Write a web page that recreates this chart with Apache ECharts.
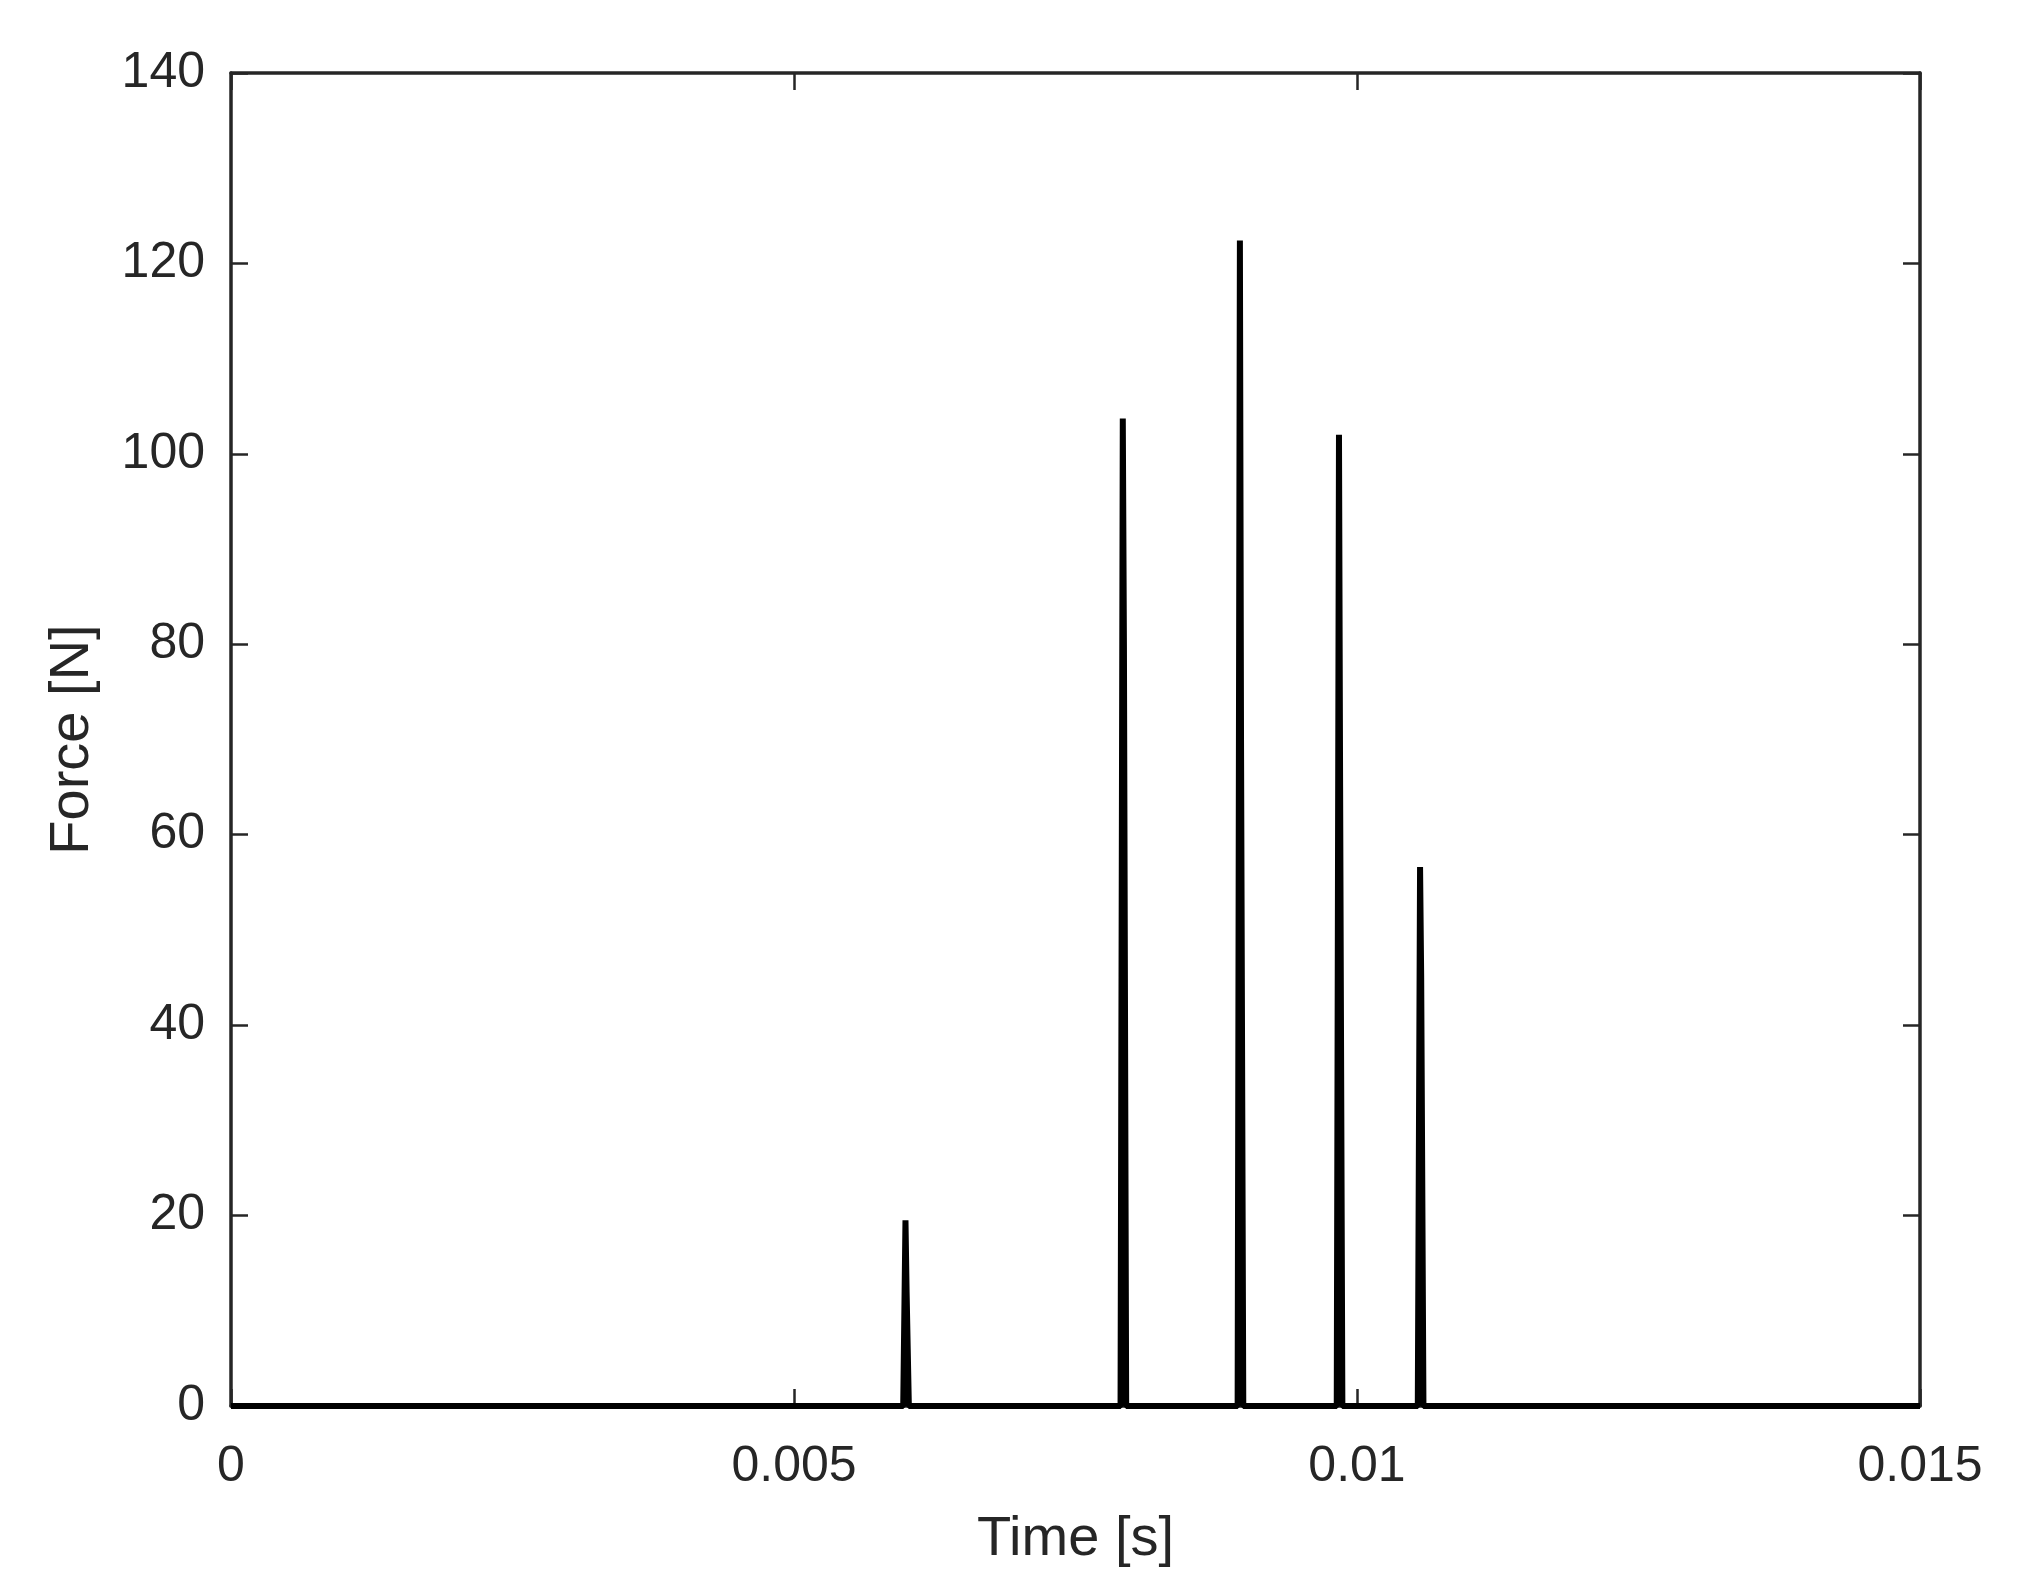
<!DOCTYPE html>
<html>
<head>
<meta charset="utf-8">
<script src="https://cdn.jsdelivr.net/npm/echarts@6/dist/echarts.min.js"></script>
<style>
html,body{margin:0;padding:0;background:#fff;}
#chart{width:2019px;height:1590px;}
</style>
</head>
<body>
<div id="chart"></div>
<script>
// Data (time in seconds, force in newtons)
const timeS  = [0, 0.00597, 0.00599, 0.00600, 0.00602,
                0.00790, 0.00792, 0.00793, 0.00795,
                0.00894, 0.00896, 0.00897, 0.00899,
                0.00982, 0.00984, 0.00985, 0.00987,
                0.01054, 0.01056, 0.01057, 0.01059, 0.015];
const forceN = [0, 0, 19.5, 12, 0,
                0, 103.7, 80, 0,
                0, 122.4, 70, 0,
                0, 102.0, 65, 0,
                0, 56.6, 45, 0, 0];
const xTicks = [0, 0.005, 0.01, 0.015];
const yTicks = [0, 20, 40, 60, 80, 100, 120, 140];

const seriesData = timeS.map((t, i) => [t, forceN[i]]);
const FONT = 'Liberation Sans, Arial, sans-serif';
const TXT = '#262626';

const chart = echarts.init(document.getElementById('chart'), null, {renderer: 'canvas'});
const baseX = {
  type: 'value', min: xTicks[0], max: xTicks[xTicks.length - 1], interval: xTicks[1] - xTicks[0],
  splitLine: {show: false},
  axisLine: {show: true, onZero: false, lineStyle: {color: TXT, width: 3.5}},
  axisTick: {show: true, inside: true, length: 17, lineStyle: {color: TXT, width: 2.5}}
};
const baseY = {
  type: 'value', min: yTicks[0], max: yTicks[yTicks.length - 1], interval: yTicks[1] - yTicks[0],
  splitLine: {show: false},
  axisLine: {show: true, onZero: false, lineStyle: {color: TXT, width: 3.5}},
  axisTick: {show: true, inside: true, length: 17, lineStyle: {color: TXT, width: 2.5}}
};
chart.setOption({
  animation: false,
  backgroundColor: '#ffffff',
  grid: {left: 231, right: 99, top: 73, bottom: 184, containLabel: false},
  xAxis: [
    Object.assign({}, baseX, {
      position: 'bottom',
      name: 'Time [s]', nameLocation: 'middle', nameGap: 106,
      nameTextStyle: {fontFamily: FONT, fontSize: 56, color: TXT},
      axisLabel: {show: true, margin: 36, fontFamily: FONT, fontSize: 50, color: TXT,
                  formatter: v => String(v)}
    }),
    Object.assign({}, baseX, {position: 'top', axisLabel: {show: false}})
  ],
  yAxis: [
    Object.assign({}, baseY, {
      position: 'left',
      name: 'Force [N]', nameLocation: 'middle', nameGap: 130,
      nameTextStyle: {fontFamily: FONT, fontSize: 56, color: TXT},
      axisLabel: {show: true, margin: 26, fontFamily: FONT, fontSize: 50, color: TXT,
                  padding: [8, 0, 0, 0]}
    }),
    Object.assign({}, baseY, {position: 'right', axisLabel: {show: false}})
  ],
  series: [{
    type: 'line',
    xAxisIndex: 0, yAxisIndex: 0,
    data: seriesData,
    symbol: 'none',
    lineStyle: {color: '#000000', width: 6},
    z: 10
  }]
});
</script>
</body>
</html>
